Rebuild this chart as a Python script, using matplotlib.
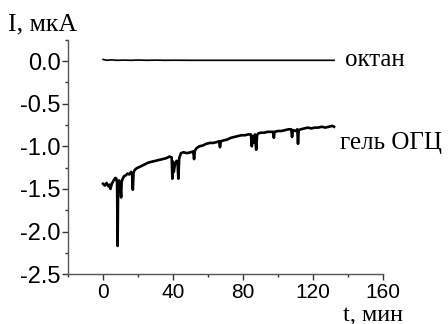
import matplotlib
matplotlib.use("Agg")
import matplotlib.pyplot as plt
from matplotlib.ticker import MultipleLocator

# octane baseline
t_oct = [0, 2, 5, 8, 12, 16, 20, 25, 30, 35,
         40, 50, 60, 70, 80, 90, 100, 103, 110, 120, 132]
i_oct = [0.02, 0.01, 0.015, 0.01, 0.012, 0.01, 0.013, 0.01, 0.012, 0.01,
         0.011, 0.01, 0.01, 0.01, 0.01, 0.01, 0.01, 0.01, 0.01, 0.01, 0.01]

# gel current (with the downward spikes)
t_gel = [0, 1, 2, 3, 3.8, 4.2, 5, 6, 7, 7.6,
         8.0, 8.3, 8.6, 9.2, 9.8, 10.3, 10.6, 11.2, 12, 13,
         14, 15, 16, 16.6, 17.0, 17.4, 18, 19, 20, 22,
         24, 26, 28, 30, 32, 34, 36, 38, 39.2, 39.6,
         40.0, 40.4, 41, 42, 42.6, 43.0, 43.5, 44.5, 46, 48,
         50, 51.5, 52.0, 52.5, 53.5, 55, 57, 59, 61, 63,
         65, 66.3, 66.8, 67.3, 69, 71, 73, 75, 77, 79,
         81, 83, 84.5, 85.0, 85.5, 86.0, 86.8, 87.5, 88.0, 88.6,
         90, 92, 94, 96, 97.2, 97.6, 98, 100, 102, 104,
         106, 107.5, 108.0, 108.5, 110, 111.0, 111.4, 111.8, 113, 115,
         117, 119, 121, 123, 125, 127, 129, 131, 132]
i_gel = [-1.44, -1.46, -1.43, -1.47, -1.45, -1.50, -1.44, -1.40, -1.37, -1.38,
         -1.43, -2.17, -1.43, -1.40, -1.44, -1.60, -1.42, -1.38, -1.35, -1.34,
         -1.32, -1.33, -1.30, -1.33, -1.51, -1.31, -1.28, -1.26, -1.25, -1.23,
         -1.21, -1.19, -1.18, -1.17, -1.16, -1.15, -1.14, -1.12, -1.13, -1.38,
         -1.18, -1.30, -1.22, -1.17, -1.20, -1.38, -1.14, -1.08, -1.07, -1.08,
         -1.07, -1.06, -1.15, -1.05, -1.02, -1.00, -0.99, -0.97, -0.96, -0.96,
         -0.95, -0.94, -1.01, -0.94, -0.93, -0.92, -0.90, -0.89, -0.88, -0.87,
         -0.87, -0.86, -0.86, -1.00, -0.88, -0.96, -0.86, -1.04, -0.87, -0.85,
         -0.84, -0.84, -0.83, -0.83, -0.83, -0.90, -0.83, -0.82, -0.82, -0.81,
         -0.80, -0.80, -0.89, -0.81, -0.82, -0.80, -0.97, -0.81, -0.80, -0.79,
         -0.78, -0.79, -0.78, -0.78, -0.77, -0.78, -0.77, -0.76, -0.77]

serif = ["Liberation Serif", "DejaVu Serif"]
plt.rcParams["font.family"] = ["Liberation Sans", "DejaVu Sans"]

fig = plt.figure(figsize=(4.48, 3.24), dpi=100)
ax = fig.add_axes([0.152, 0.154, 0.703, 0.723])

ax.plot(t_oct, i_oct, color="black", lw=1.2)
ax.plot(t_gel, i_gel, color="black", lw=1.9)

ax.set_xlim(-20, 160)
ax.set_ylim(-2.5, 0.25)
ax.xaxis.set_major_locator(MultipleLocator(40))
ax.xaxis.set_minor_locator(MultipleLocator(20))
ax.yaxis.set_major_locator(MultipleLocator(0.5))
ax.yaxis.set_minor_locator(MultipleLocator(0.25))
ax.yaxis.set_major_formatter(plt.FuncFormatter(lambda v, p: f"{v:.1f}"))

for side in ["top", "right"]:
    ax.spines[side].set_visible(False)
for side in ["left", "bottom"]:
    ax.spines[side].set_color("#555555")
    ax.spines[side].set_linewidth(1.0)

ax.tick_params(which="major", direction="out", length=4, width=1, color="#333333")
ax.tick_params(which="minor", direction="out", length=2.5, width=1, color="#333333")
ax.tick_params(axis="x", which="major", labelsize=15, pad=2.5)
ax.tick_params(axis="y", which="major", labelsize=17, pad=1.5)

ax.text(138.5, 0.01, "октан", family=serif, fontsize=18, va="center", ha="left")
ax.text(135.5, -0.96, "гель ОГЦ", family=serif, fontsize=18, va="center", ha="left")
fig.text(0.018, 0.905, "I, мкА", family=serif, fontsize=18.5, va="baseline", ha="left")
fig.text(0.765, 0.008, "t, мин", family=serif, fontsize=17.5, va="baseline", ha="left")

fig.savefig("out.png", dpi=100)
